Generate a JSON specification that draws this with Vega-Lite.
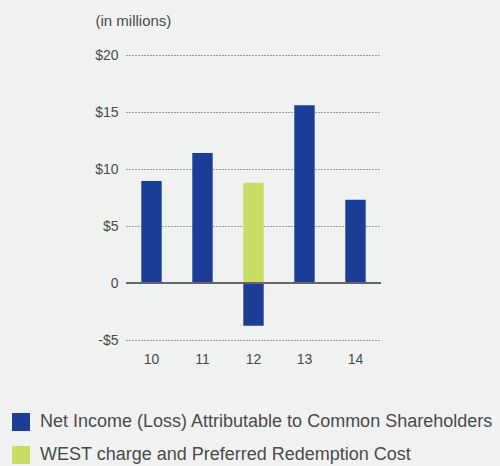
{
  "$schema": "https://vega.github.io/schema/vega-lite/v6.json",
  "width": 255,
  "height": 285,
  "autosize": "none",
  "padding": {"left": 126, "top": 55, "right": 119, "bottom": 126},
  "background": "#f0f2f1",
  "config": {
    "view": {"stroke": null},
    "font": "Liberation Sans"
  },
  "data": {
    "values": [
      {"year": "10", "series": "Net Income (Loss) Attributable to Common Shareholders", "value": 8.95},
      {"year": "11", "series": "Net Income (Loss) Attributable to Common Shareholders", "value": 11.4},
      {"year": "12", "series": "Net Income (Loss) Attributable to Common Shareholders", "value": -3.75},
      {"year": "12", "series": "WEST charge and Preferred Redemption Cost", "value": 8.8},
      {"year": "13", "series": "Net Income (Loss) Attributable to Common Shareholders", "value": 15.6},
      {"year": "14", "series": "Net Income (Loss) Attributable to Common Shareholders", "value": 7.3}
    ]
  },
  "layer": [
    {
      "mark": {"type": "bar"},
      "encoding": {
        "x": {
          "field": "year", "type": "nominal",
          "scale": {"paddingInner": 0.6, "paddingOuter": 0.3},
          "axis": {"title": null, "labelAngle": 0, "domain": false, "ticks": false, "labelPadding": 12, "labelFontSize": 14, "labelColor": "#4a4a4a"}
        },
        "y": {
          "field": "value", "type": "quantitative", "stack": "zero",
          "scale": {"domain": [-5, 20], "nice": false},
          "axis": {
            "values": [-5, 0, 5, 10, 15, 20],
            "labelExpr": "datum.value == 0 ? '0' : (datum.value < 0 ? '-$' + abs(datum.value) : '$' + datum.value)",
            "domain": false, "ticks": false, "labelPadding": 8, "labelFontSize": 14, "labelColor": "#4a4a4a",
            "grid": true, "gridDash": [1, 2], "gridColor": "#444", "gridWidth": 1,
            "title": "(in millions)", "titleAngle": 0, "titleAlign": "left", "titleBaseline": "alphabetic",
            "titleX": -31, "titleY": -30, "titleFontSize": 15, "titleFontWeight": "normal", "titleColor": "#4a4a4a"
          }
        },
        "color": {
          "field": "series", "type": "nominal",
          "scale": {
            "domain": ["Net Income (Loss) Attributable to Common Shareholders", "WEST charge and Preferred Redemption Cost"],
            "range": ["#1c3d96", "#c8dc66"]
          },
          "legend": {
            "title": null, "orient": "none", "legendX": -114, "legendY": 358,
            "symbolType": "square", "symbolSize": 324, "symbolStrokeWidth": 0, "symbolOpacity": 1,
            "labelFontSize": 18, "labelColor": "#4a4a4a", "rowPadding": 15, "labelOffset": 10, "labelLimit": 500
          }
        }
      }
    },
    {
      "mark": {"type": "rule", "color": "#666", "strokeWidth": 1.5},
      "encoding": {"y": {"datum": 0}}
    }
  ]
}
